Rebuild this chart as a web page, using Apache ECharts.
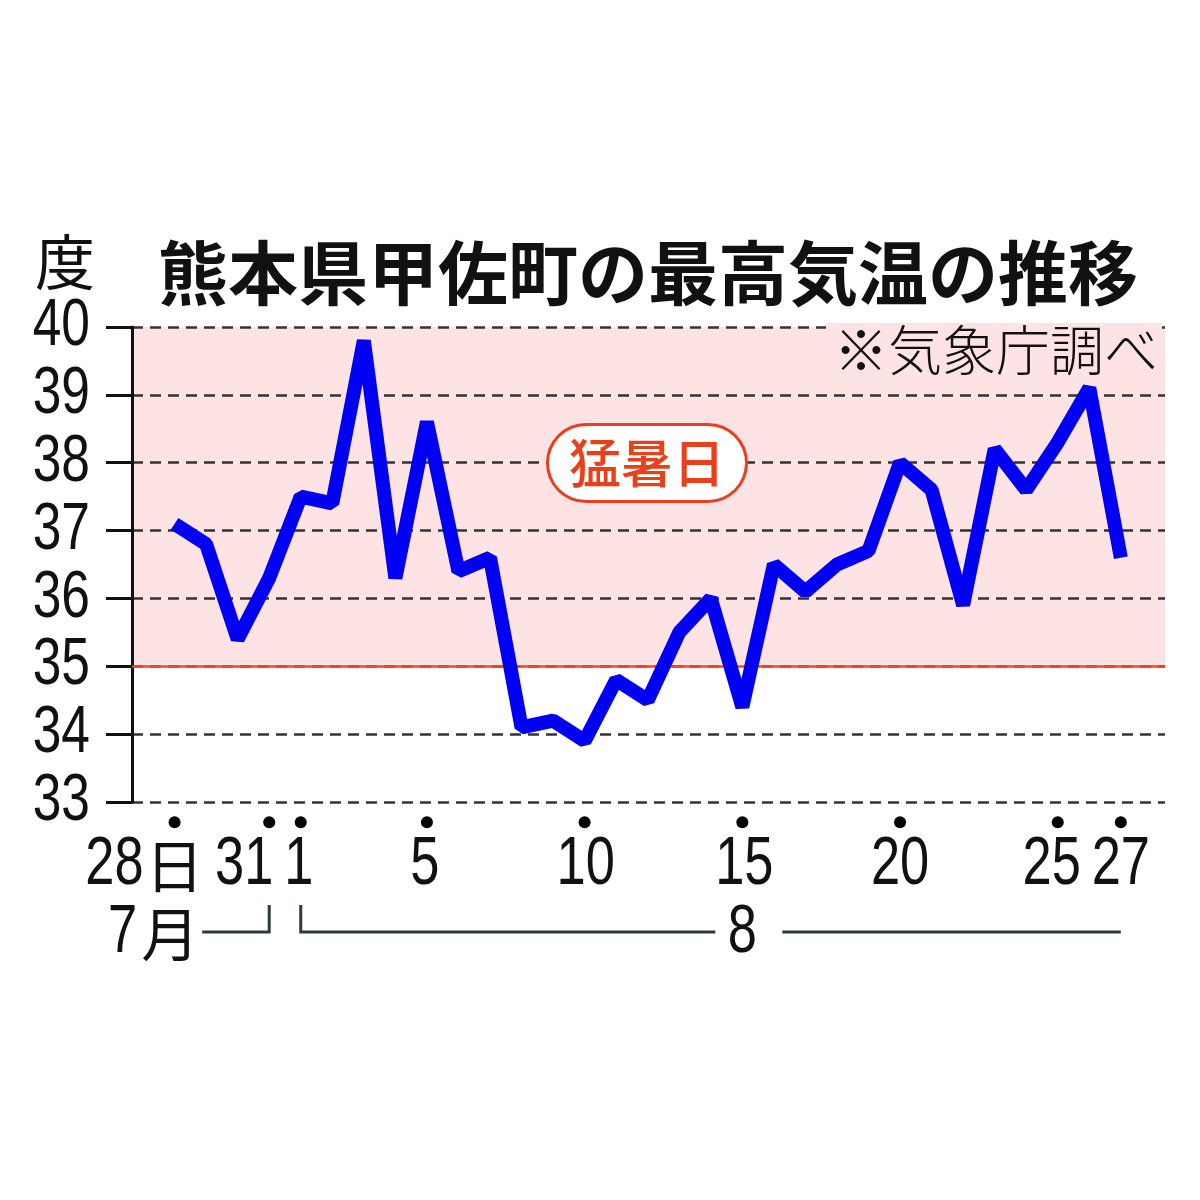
<!DOCTYPE html>
<html>
<head>
<meta charset="utf-8">
<script src="https://cdn.jsdelivr.net/npm/echarts@6/dist/echarts.min.js"></script>
<style>
html,body{margin:0;padding:0;background:#fff;}
#c{width:1200px;height:1200px;}
</style>
</head>
<body>
<div id="c"></div>
<script>
// ---- data ----
const dates = ['7/28','7/29','7/30','7/31','8/1','8/2','8/3','8/4','8/5','8/6','8/7','8/8','8/9','8/10','8/11','8/12','8/13','8/14','8/15','8/16','8/17','8/18','8/19','8/20','8/21','8/22','8/23','8/24','8/25','8/26','8/27'];
const maxTemps = [37.1,36.8,35.4,36.3,37.5,37.4,39.8,36.3,38.6,36.4,36.6,34.1,34.2,33.9,34.8,34.5,35.5,36.0,34.4,36.5,36.1,36.5,36.7,38.0,37.6,35.9,38.2,37.6,38.3,39.1,36.6];
const tickIndex = [0,3,4,8,13,18,23,28,30];
const tickText = ['28日','31','1','5','10','15','20','25','27'];
const yTicks = [33,34,35,36,37,38,39,40];
const hotThreshold = 35;
const monthLabels = ['7月','8'];
const monthStart = [0,4];
const monthEnd = [3,30];

// ---- style / layout ----
const SANS = "'Liberation Sans',Arial,sans-serif";
const CJK = "'Noto Sans CJK JP',sans-serif";
const labelShift = [0,-25,-2,-2,1,2,0,-6,0];
const INK = '#111';
const PINK = '#fde3e3';

const chart = echarts.init(document.getElementById('c'));

const option = {
  animation:false,
  backgroundColor:'#ffffff',
  grid:{left:132,right:35,top:327,bottom:398},
  xAxis:{type:'value',min:-1.35,max:31.4,show:false},
  yAxis:{
    type:'value',min:yTicks[0],max:yTicks[yTicks.length-1],interval:1,z:2,
    axisLine:{show:true,onZero:false,lineStyle:{color:INK,width:3}},
    axisTick:{show:true,length:26,lineStyle:{color:INK,width:3}},
    axisLabel:{show:false},
    splitLine:{show:true,lineStyle:{color:'#333',width:2.5,type:[11,7]}}
  },
  series:[
    {
      type:'line',
      data:maxTemps.map((v,i)=>[i,v]),
      symbol:'none',
      z:10,
      lineStyle:{color:'#0000f5',width:14,cap:'butt',join:'bevel'},
      markArea:{
        silent:true,z:1,
        itemStyle:{color:PINK},
        data:[[{yAxis:hotThreshold},{yAxis:yTicks[yTicks.length-1]}]]
      },
      markLine:{
        silent:true,z:4,symbol:['none','none'],label:{show:false},
        lineStyle:{color:'#f04a22',width:2.5,type:'solid'},
        data:[{yAxis:hotThreshold}]
      }
    },
    {
      type:'scatter',
      data:tickIndex.map(idx=>[idx,32.7]),
      clip:false,
      symbolSize:12,
      itemStyle:{color:'#000',opacity:1},
      z:11,
      silent:true
    }
  ]
};
chart.setOption(option);

const toPx = (x,y) => chart.convertToPixel({gridIndex:0},[x,y]);
const px = i => toPx(i,yTicks[0])[0];
const yBase = toPx(0,yTicks[0])[1];
const axisX = toPx(-1.35,yTicks[0])[0];

function narrow(x,y,text,size,align,scale){
  return {type:'text',z:100,x:x,y:y,scaleX:scale,silent:true,
    style:{x:0,y:0,text:text,font:size+'px '+SANS,fill:INK,align:align,verticalAlign:'middle'}};
}
function cjk(x,y,text,font,align){
  return {type:'text',z:100,silent:true,style:{x:x,y:y,text:text,font:font,fill:INK,align:align,verticalAlign:'middle'}};
}

const g = [];
// title, unit, source, hot-day label
g.push(cjk(648,273,'熊本県甲佐町の最高気温の推移','bold 70px '+CJK,'center'));
g.push(cjk(65,262,'度','60px '+CJK,'center'));
g.push({type:'text',z:100,silent:true,style:{x:1162,y:350,text:'※気象庁調べ',font:'300 54px '+CJK,fill:INK,align:'right',verticalAlign:'middle',backgroundColor:PINK,padding:[0,4,0,8]}});
g.push({type:'text',z:100,silent:true,style:{x:647,y:463,text:'猛暑日',font:'500 52px '+CJK,fill:'#e8401c',align:'center',verticalAlign:'middle',backgroundColor:'#ffffff',borderColor:'#e8401c',borderWidth:3,borderRadius:38,padding:[11,20,11,20]}});

// y tick labels
yTicks.forEach(v=>{
  g.push(narrow(axisX-42, toPx(0,v)[1], String(v), 66, 'right', 0.78));
});

// x tick labels
const labY = yBase+63;
tickIndex.forEach((idx,k)=>{
  const t = tickText[k];
  const x = px(idx);
  if (t.endsWith('日')) {
    g.push(narrow(x-31, labY, t.slice(0,-1), 69, 'right', 0.76));
    g.push(cjk(x-29, labY+1, '日', '58px '+CJK, 'left'));
  } else {
    g.push(narrow(x+labelShift[k], labY, t, 69, 'center', 0.76));
  }
});

// month brackets
const br = yBase+130, bt = yBase+103;
const lineCol = '#2f3a3a';
const augMid = 18;
const julEnd = px(monthEnd[0]);
g.push({type:'polyline',z:100,silent:true,shape:{points:[[julEnd-67,br],[julEnd,br],[julEnd,bt]]},style:{stroke:lineCol,lineWidth:3,fill:null}});
g.push({type:'polyline',z:100,silent:true,shape:{points:[[px(monthStart[1]),bt],[px(monthStart[1]),br],[px(augMid)-27,br]]},style:{stroke:lineCol,lineWidth:3,fill:null}});
g.push({type:'line',z:100,silent:true,shape:{x1:px(augMid)+40,y1:br,x2:px(monthEnd[1]),y2:br},style:{stroke:lineCol,lineWidth:3}});
g.push(narrow(julEnd-132, br+1, monthLabels[0].slice(0,-1), 69, 'right', 0.76));
g.push(cjk(julEnd-128, br+2, '月', '58px '+CJK, 'left'));
g.push(narrow(px(augMid), br+1, monthLabels[1], 69, 'center', 0.76));

chart.setOption({graphic:g});
</script>
</body>
</html>
